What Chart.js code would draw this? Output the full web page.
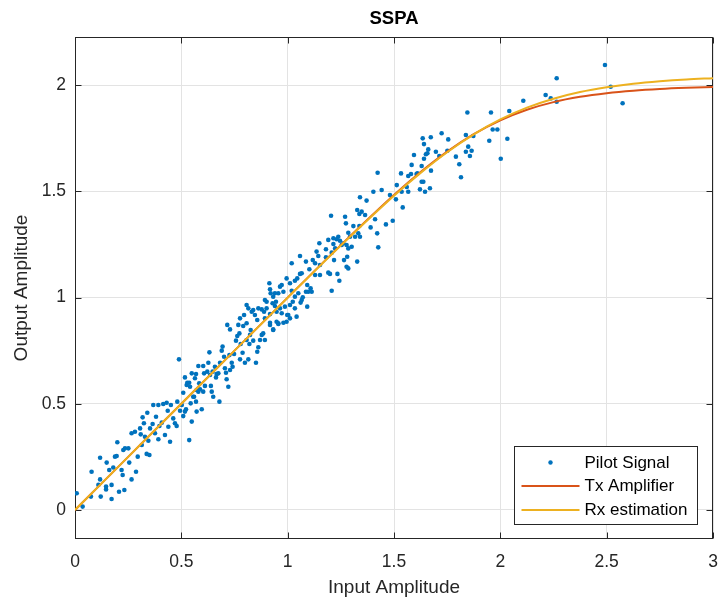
<!DOCTYPE html>
<html>
<head>
<meta charset="utf-8">
<script src="https://cdn.jsdelivr.net/npm/chart.js@4/dist/chart.umd.min.js"></script>
<style>
  html, body { margin: 0; padding: 0; background: #ffffff; }
  #wrap { width: 719px; height: 604px; }
</style>
</head>
<body>
<div id="wrap"><canvas id="c" width="719" height="604"></canvas></div>
<script>
// Received pilot samples: input amplitude and measured output amplitude
const pilotInput = [
  0.008,0.036,0.078,0.075,0.118,0.121,0.110,0.118,0.146,0.149,0.146,0.161,0.172,0.172,0.180,0.188,0.196,0.199,0.207,0.219,
  0.224,0.232,0.227,0.235,0.251,0.255,0.266,0.266,0.287,0.282,0.295,0.306,0.309,0.314,0.318,0.324,0.329,0.337,0.340,0.345,
  0.350,0.353,0.365,0.368,0.376,0.381,0.392,0.392,0.397,0.408,0.415,0.423,0.431,0.436,0.439,0.447,0.451,0.462,0.470,0.478,
  0.481,0.494,0.502,0.509,0.517,0.522,0.537,0.549,0.544,0.560,0.569,0.572,0.580,0.596,0.603,
  0.489,0.679,0.643,0.650,0.509,0.517,0.525,0.528,0.537,0.541,0.549,0.556,0.564,0.569,0.572,0.580,0.584,0.588,0.603,0.607,
  0.611,0.622,0.627,0.632,0.635,0.639,0.647,0.658,0.663,0.666,0.674,0.682,0.690,0.694,0.701,0.705,0.710,0.713,0.721,0.726,
  0.729,0.737,0.741,0.748,0.757,0.763,0.773,0.776,0.779,0.788,0.799,0.807,0.815,0.820,0.823,0.826,0.838,0.851,0.857,0.862,
  0.870,0.878,0.885,0.893,0.716,0.729,0.768,0.791,0.807,0.956,0.980,0.932,0.917,
  1.058,1.136,1.144,1.019,1.086,1.118,1.129,1.152,1.180,1.218,1.280,1.265,1.327,1.277,1.285,1.191,1.199,1.234,1.243,1.207,
  1.152,1.129,1.102,1.066,1.058,1.045,1.034,0.995,1.011,1.019,1.092,1.108,1.113,1.086,1.092,1.066,1.050,1.034,1.024,1.011,
  0.998,1.011,0.987,0.980,0.972,0.964,0.956,0.940,0.917,0.914,0.920,0.932,0.945,0.929,0.940,0.964,0.972,0.948,0.901,0.893,
  0.901,0.917,0.889,0.878,0.862,0.838,0.831,0.807,0.846,0.857,0.893,0.917,0.932,0.956,0.948,0.995,1.003,1.042,1.034,1.061,
  1.071,1.097,0.776,0.815,0.795,
  1.340,1.371,1.403,1.442,1.481,1.509,1.536,1.567,1.541,1.327,1.337,1.364,1.348,1.204,1.270,1.274,1.309,1.337,1.332,1.317,
  1.340,1.390,1.411,1.421,1.462,1.494,1.426,1.285,1.293,1.277,1.285,1.301,1.238,1.230,1.246,1.254,1.262,1.215,1.191,1.215,
  1.223,1.207,1.149,1.180,
  1.423,1.533,1.513,1.567,1.580,1.583,1.594,1.610,1.630,1.630,1.638,1.622,1.646,1.669,1.674,1.650,1.657,1.641,1.635,1.673,
  1.661,1.697,1.713,1.724,1.755,1.751,1.791,1.807,1.815,1.838,1.849,1.838,1.865,1.873,1.857,1.641,1.560,1.606,
  2.265,2.213,2.237,2.265,2.108,2.042,1.956,1.845,1.964,1.986,1.948,2.033,2.002,
  2.492,2.519,2.575
];
const pilotOutput = [
  0.079,0.016,0.180,0.063,0.144,0.063,0.118,0.246,0.110,0.223,0.097,0.188,0.052,0.118,0.200,0.251,0.254,0.319,0.086,0.188,
  0.165,0.094,0.282,0.290,0.290,0.223,0.144,0.361,0.180,0.368,0.251,0.384,0.356,0.306,0.436,0.408,0.345,0.264,0.458,0.326,
  0.259,0.384,0.405,0.494,0.361,0.439,0.494,0.333,0.395,0.411,0.499,0.353,0.505,0.467,0.392,0.321,0.494,0.431,0.408,0.395,
  0.510,0.467,0.494,0.442,0.463,0.474,0.329,0.416,0.502,0.533,0.510,0.463,0.557,0.474,0.557,
  0.709,0.510,0.557,0.533,0.552,0.624,0.588,0.599,0.599,0.580,0.643,0.533,0.620,0.640,0.565,0.678,0.596,0.568,0.678,0.643,
  0.584,0.651,0.693,0.742,0.635,0.584,0.651,0.674,0.624,0.640,0.643,0.693,0.750,0.769,0.721,0.667,0.646,0.615,0.580,0.729,
  0.659,0.693,0.674,0.734,0.797,0.819,0.831,0.709,0.781,0.740,0.693,0.800,0.709,0.781,0.824,0.847,0.797,0.693,0.745,0.766,
  0.800,0.824,0.831,0.800,0.871,0.850,0.871,0.866,0.879,0.875,0.881,0.850,0.871,
  1.195,1.216,1.195,1.161,1.169,1.176,1.161,1.153,1.189,1.176,1.192,1.176,1.169,1.145,1.137,1.117,1.111,1.111,1.079,1.032,
  1.106,1.106,1.133,1.114,1.111,1.090,1.079,1.090,1.067,1.032,1.059,1.043,1.027,1.027,0.957,0.988,1.020,1.004,0.980,0.965,
  0.918,0.902,0.957,1.027,1.059,1.051,1.020,1.020,1.039,1.067,1.020,1.004,0.980,0.973,0.960,0.949,0.926,0.933,0.980,0.988,
  0.949,0.922,0.933,0.944,0.949,0.941,0.933,0.965,0.918,0.894,0.902,0.881,0.847,0.879,0.886,0.886,0.918,0.910,0.949,0.976,
  1.001,1.027,0.902,0.949,0.918,
  1.472,1.456,1.498,1.506,1.482,1.462,1.498,1.498,1.424,1.412,1.393,1.388,1.404,1.385,1.380,1.349,1.336,1.336,1.302,1.286,
  1.286,1.330,1.368,1.302,1.344,1.361,1.236,1.305,1.286,1.247,1.231,1.239,1.286,1.274,1.267,1.247,1.255,1.279,1.271,1.252,
  1.231,1.211,1.255,1.227,
  1.587,1.584,1.529,1.572,1.581,1.624,1.671,1.584,1.619,1.545,1.545,1.509,1.498,1.514,1.597,1.674,1.679,1.722,1.749,1.754,
  1.697,1.686,1.666,1.773,1.744,1.691,1.663,1.627,1.566,1.765,1.710,1.686,1.691,1.760,1.666,1.653,1.520,1.581,
  2.032,1.953,1.937,1.921,1.926,1.878,1.871,1.871,1.791,1.791,1.738,1.747,1.653,
  2.094,1.992,1.914
];

// Amplifier characteristic (transmitter) and its estimate at the receiver
const curveInput = [0, 0.25, 0.5, 0.75, 1.0, 1.25, 1.5, 1.625, 1.75, 1.875, 2.0, 2.125, 2.25, 2.375, 2.5, 2.625, 2.75, 2.875, 3.0];
const txOutput   = [0, 0.25, 0.5, 0.75, 0.9995, 1.2464, 1.4822, 1.5901, 1.6866, 1.7685, 1.8340, 1.8836, 1.9195, 1.9444, 1.9615, 1.9733, 1.9813, 1.9867, 1.9906];
const rxOutput   = [0, 0.25, 0.5, 0.75, 0.9992, 1.2452, 1.4793, 1.5866, 1.6838, 1.7681, 1.8380, 1.8934, 1.9356, 1.9670, 1.9895, 2.0061, 2.0177, 2.0262, 2.0320];

// Axis ticks
const xTickValues = [0, 0.5, 1, 1.5, 2, 2.5, 3];
const xTickLabels = ['0', '0.5', '1', '1.5', '2', '2.5', '3'];
const yTickValues = [0, 0.5, 1, 1.5, 2];
const yTickLabels = ['0', '0.5', '1', '1.5', '2'];

const FONT = "'Liberation Sans', Arial, Helvetica, sans-serif";
const AXIS_COLOR = '#262626';
const GRID_COLOR = '#e3e3e3';

const pilotPoints = pilotInput.map((x, i) => ({ x: x, y: pilotOutput[i] }));
const txPoints = curveInput.map((x, i) => ({ x: x, y: txOutput[i] }));
const rxPoints = curveInput.map((x, i) => ({ x: x, y: rxOutput[i] }));

// Axes box with inward tick marks on all four sides
const boxFrame = {
  id: 'boxFrame',
  beforeDatasetsDraw(chart) {
    const { ctx, chartArea: a, scales } = chart;
    const L = Math.round(a.left) + 0.5, R = Math.round(a.right) - 0.5;
    const T = Math.round(a.top) + 0.5, B = Math.round(a.bottom) - 0.5;
    const tl = 6;
    ctx.save();
    ctx.strokeStyle = AXIS_COLOR;
    ctx.lineWidth = 1;
    ctx.beginPath();
    xTickValues.forEach(v => {
      const px = Math.round(scales.x.getPixelForValue(v)) + 0.5;
      ctx.moveTo(px, B); ctx.lineTo(px, B - tl);
      ctx.moveTo(px, T); ctx.lineTo(px, T + tl);
    });
    yTickValues.forEach(v => {
      const py = Math.round(scales.y.getPixelForValue(v)) + 0.5;
      ctx.moveTo(L, py); ctx.lineTo(L + tl, py);
      ctx.moveTo(R, py); ctx.lineTo(R - tl, py);
    });
    ctx.stroke();
    ctx.strokeRect(L, T, R - L, B - T);
    ctx.restore();
  }
};

// Boxed legend in the lower right corner of the plot area
const boxLegend = {
  id: 'boxLegend',
  afterDraw(chart) {
    const { ctx, chartArea: a } = chart;
    const w = 183, h = 78;
    const left = Math.round(a.right) - 199 + 0.5;
    const top = Math.round(a.bottom) - 93 + 0.5;
    ctx.save();
    ctx.fillStyle = '#ffffff';
    ctx.fillRect(left, top, w, h);
    ctx.strokeStyle = AXIS_COLOR;
    ctx.lineWidth = 1;
    ctx.strokeRect(left, top, w, h);
    ctx.font = '17px ' + FONT;
    ctx.textBaseline = 'middle';
    ctx.textAlign = 'left';
    const rowY = [16, 39.5, 63.5];
    chart.data.datasets.forEach((ds, i) => {
      const y = top + rowY[i];
      if (ds.showLine === false) {
        ctx.fillStyle = ds.pointBackgroundColor;
        ctx.beginPath();
        ctx.arc(left + 36, y, 2.2, 0, Math.PI * 2);
        ctx.fill();
      } else {
        ctx.strokeStyle = ds.borderColor;
        ctx.lineWidth = 2;
        ctx.beginPath();
        ctx.moveTo(left + 7, y);
        ctx.lineTo(left + 65, y);
        ctx.stroke();
      }
      ctx.fillStyle = '#000000';
      ctx.fillText(ds.label, left + 70, y + 0.5);
    });
    ctx.restore();
  }
};

new Chart(document.getElementById('c').getContext('2d'), {
  type: 'scatter',
  data: {
    datasets: [
      {
        label: 'Pilot Signal',
        data: pilotPoints,
        showLine: false,
        pointRadius: 2.3,
        pointBorderWidth: 0,
        pointBackgroundColor: '#0072BD',
        order: 3
      },
      {
        label: 'Tx Amplifier',
        type: 'line',
        data: txPoints,
        borderColor: '#D95319',
        borderWidth: 2,
        pointRadius: 0,
        fill: false,
        cubicInterpolationMode: 'monotone',
        order: 2
      },
      {
        label: 'Rx estimation',
        type: 'line',
        data: rxPoints,
        borderColor: '#EDB120',
        borderWidth: 2,
        pointRadius: 0,
        fill: false,
        cubicInterpolationMode: 'monotone',
        order: 1
      }
    ]
  },
  options: {
    responsive: false,
    animation: false,
    devicePixelRatio: 1,
    layout: { padding: { top: 0, right: 6, left: 0, bottom: 0 } },
    plugins: {
      legend: { display: false },
      tooltip: { enabled: false },
      title: {
        display: true,
        text: 'SSPA',
        fullSize: false,
        color: '#000000',
        font: { family: FONT, size: 18.5, weight: 'bold', lineHeight: 1.2 },
        padding: { top: 7.5, bottom: 7.3 }
      }
    },
    scales: {
      x: {
        type: 'linear',
        position: 'bottom',
        min: 0,
        max: 3,
        afterBuildTicks: s => { s.ticks = xTickValues.map(v => ({ value: v })); },
        afterFit: s => { s.height = 65; s.paddingLeft = 0; s.paddingRight = 0; },
        ticks: {
          callback: (v, i) => xTickLabels[i],
          color: AXIS_COLOR,
          font: { family: FONT, size: 17.5 },
          padding: 13,
          maxRotation: 0,
          autoSkip: false
        },
        grid: { color: GRID_COLOR, drawTicks: false, lineWidth: 1 },
        border: { display: false },
        title: {
          display: true,
          text: 'Input Amplitude',
          color: AXIS_COLOR,
          font: { family: FONT, size: 19, lineHeight: 1.2 },
          padding: { top: 0, bottom: 4.6 }
        }
      },
      y: {
        type: 'linear',
        position: 'left',
        min: -0.1365,
        max: 2.226,
        afterBuildTicks: s => { s.ticks = yTickValues.map(v => ({ value: v })); },
        afterFit: s => { s.width = 75; s.paddingTop = 0; s.paddingBottom = 0; },
        ticks: {
          callback: (v, i) => yTickLabels[i],
          color: AXIS_COLOR,
          font: { family: FONT, size: 17.5 },
          padding: 9,
          autoSkip: false
        },
        grid: { color: GRID_COLOR, drawTicks: false, lineWidth: 1 },
        border: { display: false },
        title: {
          display: true,
          text: 'Output Amplitude',
          color: AXIS_COLOR,
          font: { family: FONT, size: 19, lineHeight: 1.2 },
          padding: { top: 10.6, bottom: 0 }
        }
      }
    }
  },
  plugins: [boxFrame, boxLegend]
});
</script>
</body>
</html>
